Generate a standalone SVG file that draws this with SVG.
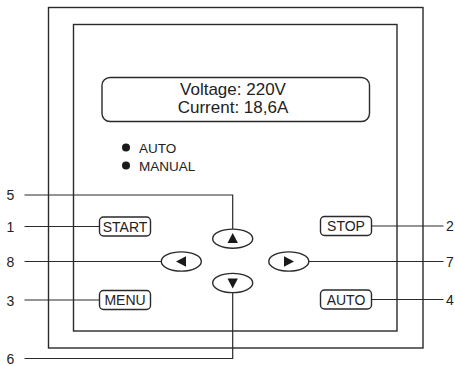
<svg xmlns="http://www.w3.org/2000/svg" width="455" height="366" viewBox="0 0 455 366">
<style>
.f{fill:none;stroke:#2a2a2a;stroke-width:1.4}
.b{fill:#fff;stroke:#2a2a2a;stroke-width:1.4}
.l{fill:none;stroke:#2a2a2a;stroke-width:1.2}
text{font-family:"Liberation Sans",Arial,sans-serif;fill:#222}
.n{font-size:14px}
.t{font-size:14px;text-anchor:middle}
.d{font-size:17px;text-anchor:middle}
.s{font-size:13.5px}
.tri{fill:#1a1a1a}
</style>
<rect width="455" height="366" fill="#fff"/>
<g id="frame">
<rect class="f" x="48.5" y="7.5" width="374.5" height="340.5"/>
<rect class="f" x="73.5" y="24.5" width="323.5" height="306.5"/>
</g>
<g id="connectors">
<polyline class="l" points="24.5,195 232.7,195 232.7,229"/>
<line class="l" x1="24.5" y1="226.5" x2="99.5" y2="226.5"/>
<line class="l" x1="24.5" y1="261.5" x2="161" y2="261.5"/>
<line class="l" x1="24.5" y1="300" x2="99.5" y2="300"/>
<polyline class="l" points="24.5,358.5 232.7,358.5 232.7,292.7"/>
<line class="l" x1="371.5" y1="226" x2="443.5" y2="226"/>
<line class="l" x1="309" y1="261.5" x2="443.5" y2="261.5"/>
<line class="l" x1="371.5" y1="299.5" x2="443.5" y2="299.5"/>
</g>
<g id="labels">
<text class="n" x="6.5" y="200">5</text>
<text class="n" x="6.5" y="231.5">1</text>
<text class="n" x="6.5" y="267">8</text>
<text class="n" x="6.5" y="305.5">3</text>
<text class="n" x="6.5" y="363.5">6</text>
<text class="n" x="446" y="231">2</text>
<text class="n" x="446" y="267">7</text>
<text class="n" x="446" y="305">4</text>
</g>
<g id="display">
<rect class="b" x="102" y="77.5" width="267.5" height="44" rx="8"/>
<text class="d" x="233" y="95">Voltage: 220V</text>
<text class="d" x="233" y="113">Current: 18,6A</text>
</g>
<g id="indicators">
<circle cx="126" cy="147.5" r="4" class="tri"/>
<circle cx="126" cy="165.5" r="4" class="tri"/>
<text class="s" x="139" y="152.5">AUTO</text>
<text class="s" x="139" y="170.5">MANUAL</text>
</g>
<g id="btn-start">
<rect class="b" x="99.5" y="217" width="51" height="19" rx="4"/>
<text class="t" x="125" y="231.5">START</text>
</g>
<g id="btn-menu">
<rect class="b" x="99.5" y="290.5" width="51" height="19" rx="4"/>
<text class="t" x="125" y="305">MENU</text>
</g>
<g id="btn-stop">
<rect class="b" x="320.5" y="216.5" width="51" height="19" rx="4"/>
<text class="t" x="346" y="231">STOP</text>
</g>
<g id="btn-auto">
<rect class="b" x="320.5" y="290" width="51" height="19" rx="4"/>
<text class="t" x="346" y="304.5">AUTO</text>
</g>
<g id="btn-up">
<ellipse class="b" cx="232.7" cy="238.7" rx="20" ry="9.6"/>
<polygon class="tri" points="232.7,233 227.5,243 237.9,243"/>
</g>
<g id="btn-left">
<ellipse class="b" cx="181.3" cy="261.5" rx="20" ry="9.6"/>
<polygon class="tri" points="176,261.5 186,256.3 186,266.7"/>
</g>
<g id="btn-right">
<ellipse class="b" cx="288.8" cy="261.5" rx="20" ry="9.6"/>
<polygon class="tri" points="294,261.5 284,256.3 284,266.7"/>
</g>
<g id="btn-down">
<ellipse class="b" cx="232.7" cy="283" rx="20" ry="9.6"/>
<polygon class="tri" points="232.7,288.5 227.5,278.5 237.9,278.5"/>
</g>
</svg>
